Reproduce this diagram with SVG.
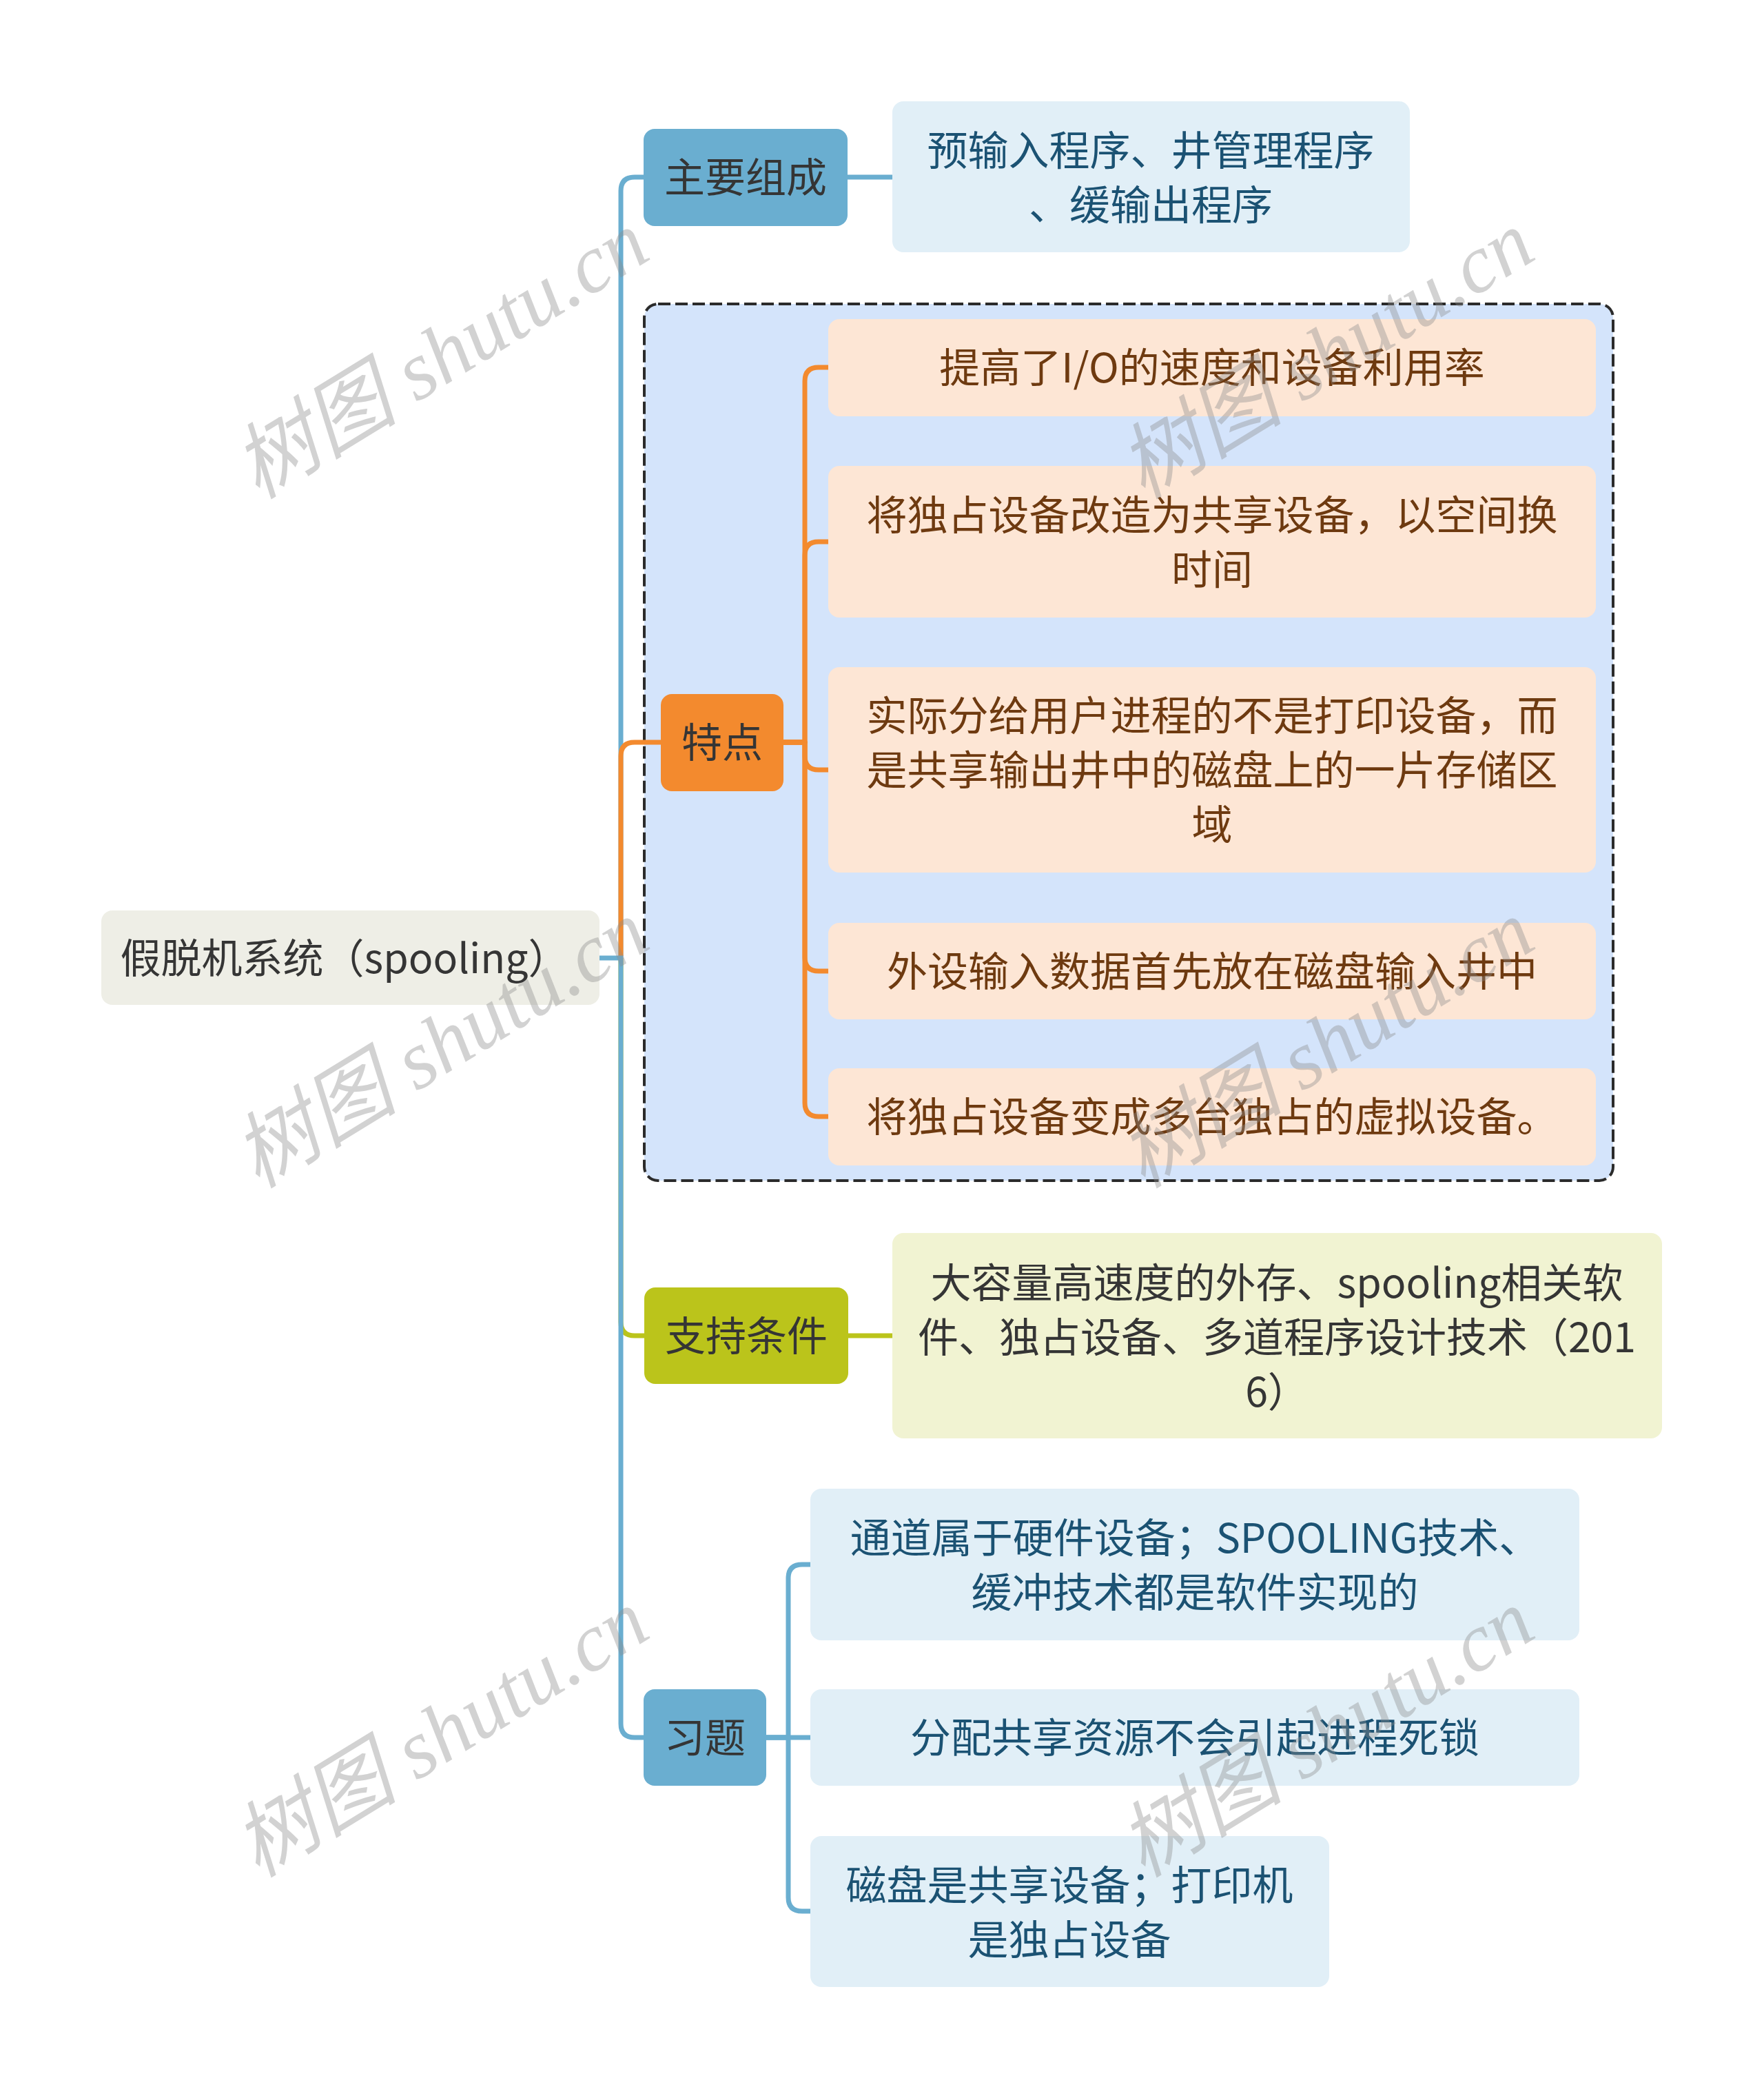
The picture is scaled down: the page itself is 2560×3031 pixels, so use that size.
<svg xmlns="http://www.w3.org/2000/svg" width="2560" height="3031" viewBox="0 0 2560 3031">
<style>
.t{font-family:"Noto Sans CJK SC","Noto Sans",sans-serif;font-size:59px;text-anchor:middle;dominant-baseline:central}
.dk{fill:#353535}
.bl{fill:#1b5273}
.br{fill:#6e3a10}
.c{fill:none;stroke-width:7;stroke-linecap:butt;stroke-linejoin:round}
.cb{stroke:#6aaed0}
.co{stroke:#f38a2e}
.cg{stroke:#bbc41b}
.wm{font-family:"Liberation Serif","Noto Sans CJK SC",serif;font-style:italic;font-size:120px;fill:#8c8c8c;opacity:0.38;text-anchor:middle;dominant-baseline:central}
</style>
<rect width="2560" height="3031" fill="#ffffff"/>

<g id="group-features">
<rect x="935" y="441" width="1406" height="1272" rx="20" fill="#d4e4fb" stroke="#2b2b2b" stroke-width="4" stroke-dasharray="18 7"/>
</g>

<g id="connectors">
<path class="c cb" d="M901 1390 V277 Q901 257 921 257 H934"/>
<path class="c co" d="M901 1387 V1097 Q901 1077 921 1077 H959"/>
<path class="c cg" d="M901 1390 V1918 Q901 1938 921 1938 H935"/>
<path class="c cb" d="M901 1390 V2501 Q901 2521 921 2521 H934"/>
<path class="c cb" d="M868 1390 H904"/>
<path class="c cb" d="M1230 257 H1295"/>
<path class="c co" d="M1137 1077 H1168 V553 Q1168 533 1188 533 H1202"/>
<path class="c co" d="M1137 1077 H1168 V806 Q1168 786 1188 786 H1202"/>
<path class="c co" d="M1137 1077 H1168 V1097 Q1168 1117 1188 1117 H1202"/>
<path class="c co" d="M1137 1077 H1168 V1389 Q1168 1409 1188 1409 H1202"/>
<path class="c co" d="M1137 1077 H1168 V1600 Q1168 1620 1188 1620 H1202"/>
<path class="c cg" d="M1231 1938 H1295"/>
<path class="c cb" d="M1112 2521 H1144 V2290 Q1144 2270 1164 2270 H1176"/>
<path class="c cb" d="M1112 2521 H1176"/>
<path class="c cb" d="M1112 2521 H1144 V2753 Q1144 2773 1164 2773 H1176"/>
</g>

<g id="root">
<rect x="147" y="1321" width="723" height="137" rx="16" fill="#eeeee6"/>
<text class="t dk" x="500" y="1386">假脱机系统（spooling）</text>
</g>

<g id="n-main">
<rect x="934" y="187" width="296" height="141" rx="16" fill="#6aaed0"/>
<text class="t dk" x="1082" y="253">主要组成</text>
</g>
<g id="n-main-1">
<rect x="1295" y="147" width="751" height="219" rx="16" fill="#e1eff7"/>
<text class="t bl" x="1670" y="214">预输入程序、井管理程序</text>
<text class="t bl" x="1670" y="293">、缓输出程序</text>
</g>

<g id="n-feat">
<rect x="959" y="1007" width="178" height="141" rx="16" fill="#f38a2e"/>
<text class="t dk" x="1048" y="1073">特点</text>
</g>
<g id="n-feat-1">
<rect x="1202" y="463" width="1114" height="141" rx="16" fill="#fde6d5"/>
<text class="t br" x="1759" y="529">提高了I/O的速度和设备利用率</text>
</g>
<g id="n-feat-2">
<rect x="1202" y="676" width="1114" height="220" rx="16" fill="#fde6d5"/>
<text class="t br" x="1759" y="743">将独占设备改造为共享设备，以空间换</text>
<text class="t br" x="1759" y="822">时间</text>
</g>
<g id="n-feat-3">
<rect x="1202" y="968" width="1114" height="298" rx="16" fill="#fde6d5"/>
<text class="t br" x="1759" y="1034">实际分给用户进程的不是打印设备，而</text>
<text class="t br" x="1759" y="1113">是共享输出井中的磁盘上的一片存储区</text>
<text class="t br" x="1759" y="1192">域</text>
</g>
<g id="n-feat-4">
<rect x="1202" y="1339" width="1114" height="140" rx="16" fill="#fde6d5"/>
<text class="t br" x="1759" y="1405">外设输入数据首先放在磁盘输入井中</text>
</g>
<g id="n-feat-5">
<rect x="1202" y="1550" width="1114" height="141" rx="16" fill="#fde6d5"/>
<text class="t br" x="1759" y="1616">将独占设备变成多台独占的虚拟设备。</text>
</g>

<g id="n-support">
<rect x="935" y="1868" width="296" height="140" rx="16" fill="#bbc41b"/>
<text class="t dk" x="1083" y="1934">支持条件</text>
</g>
<g id="n-support-1">
<rect x="1295" y="1789" width="1117" height="298" rx="16" fill="#f1f3d2"/>
<text class="t dk" x="1853" y="1857">大容量高速度的外存、spooling相关软</text>
<text class="t dk" x="1853" y="1936">件、独占设备、多道程序设计技术（201</text>
<text class="t dk" x="1853" y="2015">6）</text>
</g>

<g id="n-ex">
<rect x="934" y="2451" width="178" height="140" rx="16" fill="#6aaed0"/>
<text class="t dk" x="1023" y="2517">习题</text>
</g>
<g id="n-ex-1">
<rect x="1176" y="2160" width="1116" height="220" rx="16" fill="#e1eff7"/>
<text class="t bl" x="1734" y="2227">通道属于硬件设备；SPOOLING技术、</text>
<text class="t bl" x="1734" y="2306">缓冲技术都是软件实现的</text>
</g>
<g id="n-ex-2">
<rect x="1176" y="2451" width="1116" height="140" rx="16" fill="#e1eff7"/>
<text class="t bl" x="1734" y="2517">分配共享资源不会引起进程死锁</text>
</g>
<g id="n-ex-3">
<rect x="1176" y="2664" width="753" height="219" rx="16" fill="#e1eff7"/>
<text class="t bl" x="1552" y="2731">磁盘是共享设备；打印机</text>
<text class="t bl" x="1552" y="2810">是独占设备</text>
</g>

<g id="watermarks">
<text class="wm" transform="translate(640 515) rotate(-31.5)">树图 shutu.cn</text>
<text class="wm" transform="translate(1925 515) rotate(-31.5)">树图 shutu.cn</text>
<text class="wm" transform="translate(640 1515) rotate(-31.5)">树图 shutu.cn</text>
<text class="wm" transform="translate(1925 1515) rotate(-31.5)">树图 shutu.cn</text>
<text class="wm" transform="translate(640 2515) rotate(-31.5)">树图 shutu.cn</text>
<text class="wm" transform="translate(1925 2515) rotate(-31.5)">树图 shutu.cn</text>
</g>
</svg>
